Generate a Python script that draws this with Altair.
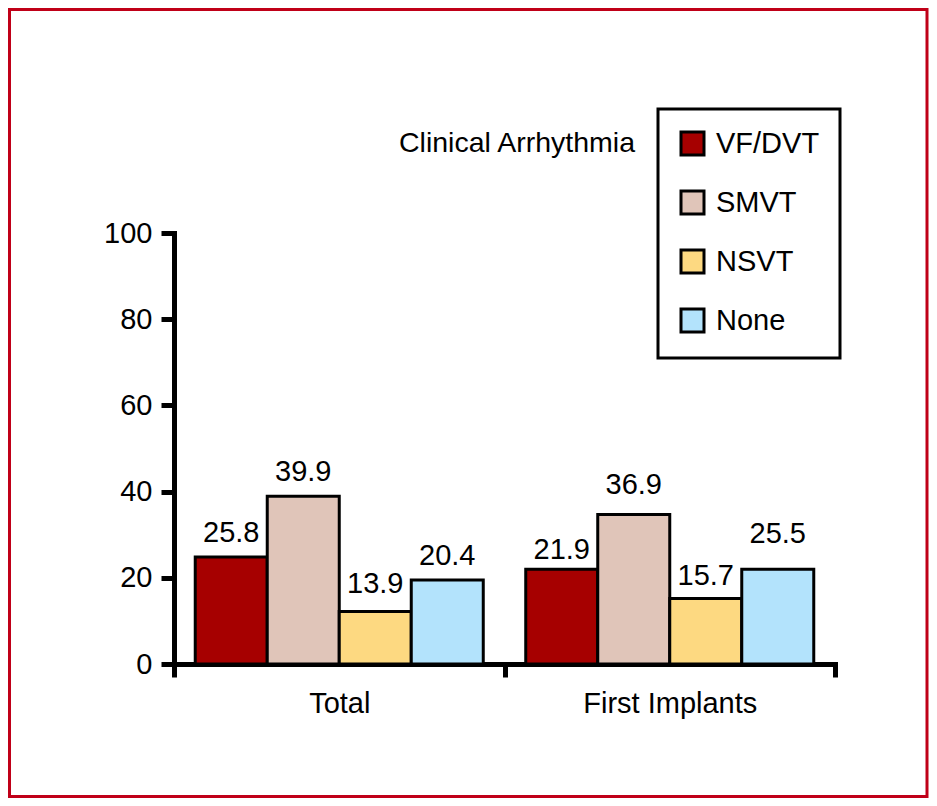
import altair as alt
import pandas as pd

categories = ["Total", "First Implants"]
groups = ["VF/DVT", "SMVT", "NSVT", "None"]
colors = ["#a60000", "#e0c5b9", "#fdd981", "#b3e3fc"]

# drawn bar heights
total_heights = [24.8, 38.9, 12.2, 19.5]
first_heights = [22.0, 34.7, 15.2, 22.0]
# printed value labels
total_labels = [25.8, 39.9, 13.9, 20.4]
first_labels = [21.9, 36.9, 15.7, 25.5]

y_ticks = [0, 20, 40, 60, 80, 100]
legend_title = "Clinical Arrhythmia"

rows = []
for cat, hs, ls in [("Total", total_heights, total_labels),
                    ("First Implants", first_heights, first_labels)]:
    for g, h, l in zip(groups, hs, ls):
        rows.append({"category": cat, "group": g, "height": h, "label": l})
df = pd.DataFrame(rows)

FONT = "Liberation Sans"

x_enc = alt.X("category:N", sort=categories,
              scale=alt.Scale(paddingInner=0, paddingOuter=0),
              axis=alt.Axis(title=None, labelAngle=0, tickBand="extent",
                            labelPadding=12, tickSize=13, tickWidth=5,
                            domainWidth=5, domainCap="square"))
xo_enc = alt.XOffset("group:N", sort=groups,
                     scale=alt.Scale(paddingInner=0, paddingOuter=0.295))
y_scale = alt.Scale(domain=[0, 100], nice=False)

base = alt.Chart(df)

bars = base.mark_bar(stroke="black", strokeWidth=3, opacity=1).encode(
    x=x_enc,
    xOffset=xo_enc,
    y=alt.Y("height:Q", scale=y_scale,
            axis=alt.Axis(values=y_ticks, title=None, grid=False,
                          labelPadding=9, tickSize=13, tickWidth=5,
                          domainWidth=5, domainCap="square")),
    color=alt.Color("group:N", sort=groups,
                    scale=alt.Scale(domain=groups, range=colors),
                    legend=alt.Legend(title=None, orient="none",
                                      legendX=484, legendY=-124,
                                      strokeColor="black",
                                      padding=20, symbolType="square",
                                      symbolSize=529,
                                      symbolStrokeColor="black",
                                      symbolStrokeWidth=3,
                                      labelFontSize=29, labelFont=FONT,
                                      labelColor="black", labelOffset=9)),
)

labels = base.mark_text(font=FONT, fontSize=29, color="black",
                        baseline="alphabetic", dy=-11).encode(
    x=alt.X("category:N", sort=categories),
    xOffset=alt.XOffset("group:N", sort=groups),
    y=alt.Y("label:Q", scale=y_scale),
    text=alt.Text("label:Q", format=".1f"),
)

title_df = pd.DataFrame({"t": [legend_title]})
title = alt.Chart(title_df).mark_text(font=FONT, fontSize=28.5, color="black",
                                      align="right", baseline="alphabetic").encode(
    x=alt.value(461), y=alt.value(-81), text="t:N")

border = alt.Chart(pd.DataFrame({"b": [0]})).mark_rect(
    fill="transparent", stroke="#c00018", strokeWidth=3).encode(
    x=alt.value(-164.5), x2=alt.value(753),
    y=alt.value(-223.5), y2=alt.value(563.5))

chart = alt.layer(border, bars, labels, title).properties(
    width=661, height=431,
    autosize=alt.AutoSizeParams(type="none"),
    padding={"left": 166, "top": 225, "right": 94, "bottom": 134},
    background="white",
).configure_view(stroke=None).configure_axis(
    labelFont=FONT, labelFontSize=29, labelColor="black",
    domainColor="black", tickColor="black",
).configure_legend(
    strokeWidth=3, rowPadding=24,
)

chart.save("out.html", embed_options={"renderer": "svg", "actions": False})
